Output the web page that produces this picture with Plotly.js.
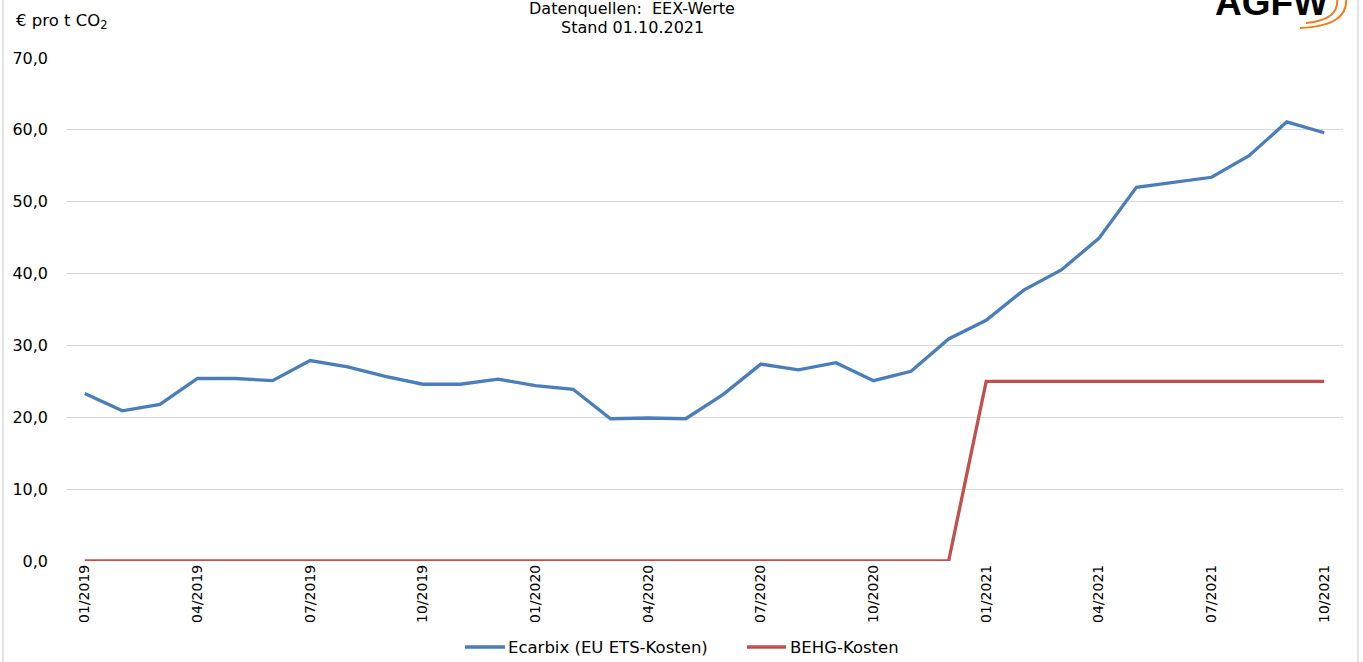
<!DOCTYPE html>
<html>
<head>
<meta charset="utf-8">
<script src="https://cdn.plot.ly/plotly-3.0.1.min.js"></script>
<style>html,body{margin:0;padding:0;background:#fff;}#chart{width:1363px;height:662px;}</style>
</head>
<body>
<div id="chart"></div>
<script>
const months = ["01/2019","02/2019","03/2019","04/2019","05/2019","06/2019","07/2019","08/2019","09/2019","10/2019","11/2019","12/2019",
"01/2020","02/2020","03/2020","04/2020","05/2020","06/2020","07/2020","08/2020","09/2020","10/2020","11/2020","12/2020",
"01/2021","02/2021","03/2021","04/2021","05/2021","06/2021","07/2021","08/2021","09/2021","10/2021"];
const ecarbix = [23.3,20.9,21.8,25.4,25.4,25.1,27.9,27.0,25.7,24.6,24.6,25.3,
24.4,23.9,19.8,19.9,19.8,23.2,27.4,26.6,27.6,25.1,26.4,30.9,
33.5,37.7,40.5,44.9,52.0,52.7,53.4,56.4,61.1,59.6];
const behg = [0,0,0,0,0,0,0,0,0,0,0,0,
0,0,0,0,0,0,0,0,0,0,0,0,
25,25,25,25,25,25,25,25,25,25];
const tickMonths = ["01/2019","04/2019","07/2019","10/2019","01/2020","04/2020","07/2020","10/2020","01/2021","04/2021","07/2021","10/2021"];
const seriesNames = ["Ecarbix (EU ETS-Kosten)", "BEHG-Kosten"];
const seriesColors = ["#4A7EBB", "#C0504D"];

const L=66, R=1343, T=58, B=561, W=1363, H=662;
const px = x => (x-L)/(R-L);
const py = y => (B-y)/(B-T);
const font = 'DejaVu Sans, Liberation Sans, Arial, sans-serif';

const traces = [
  {x: months, y: ecarbix, type:'scatter', mode:'lines', name:seriesNames[0],
   line:{color:seriesColors[0], width:3.3}},
  {x: months, y: behg, type:'scatter', mode:'lines', name:seriesNames[1],
   line:{color:seriesColors[1], width:3.3}}
];

const arc1 = `M ${px(1300)},${py(28)} Q ${px(1349)},${py(26)} ${px(1346)},${py(-2)}`;
const arc2 = `M ${px(1306)},${py(23)} Q ${px(1340)},${py(20)} ${px(1337)},${py(-2)}`;

const legY = 647;
const layout = {
  width: W, height: H,
  margin:{l:L, r:W-R, t:T, b:H-B},
  paper_bgcolor:'#fff', plot_bgcolor:'#fff',
  separators: ',.',
  font:{family:font, size:14, color:'#000'},
  showlegend:false,
  xaxis:{type:'category', range:[-0.5, months.length-0.5], tickmode:'array',
         tickvals: tickMonths, ticktext: tickMonths, tickangle:-90,
         showgrid:false, zeroline:false, showline:false, ticks:'', automargin:false,
         tickfont:{family:font, size:14, color:'#000'}, fixedrange:true},
  yaxis:{range:[0,70], dtick:10, tickformat:'.1f', showgrid:true, gridcolor:'#D9D9D9', gridwidth:1,
         zeroline:false, showline:false, ticks:'', ticklabelstandoff:17, automargin:false,
         tickfont:{family:font, size:16, color:'#000'}, fixedrange:true},
  annotations:[
    {xref:'paper', yref:'paper', x:px(14), y:py(21), xanchor:'left', yanchor:'middle', showarrow:false,
     text:'€ pro t CO<sub>2</sub>', font:{family:font, size:16.5, color:'#000'}},
    {xref:'paper', yref:'paper', x:px(632), y:py(8.5), xanchor:'center', yanchor:'middle', showarrow:false, borderpad:0,
     text:'Datenquellen:  EEX-Werte', font:{family:font, size:16, color:'#000'}},
    {xref:'paper', yref:'paper', x:px(632), y:py(27.5), xanchor:'center', yanchor:'middle', showarrow:false, borderpad:0,
     text:'Stand 01.10.2021', font:{family:font, size:16, color:'#000'}},
    {xref:'paper', yref:'paper', x:px(1213), y:py(17), xanchor:'left', yanchor:'bottom', showarrow:false,
     text:'<b>AGFW</b>', font:{family:'Liberation Sans, Arial, sans-serif', size:37, color:'#000'}, yshift:-8},
    {xref:'paper', yref:'paper', x:px(506), y:py(legY), xanchor:'left', yanchor:'middle', showarrow:false,
     text:seriesNames[0], font:{family:font, size:16.5, color:'#000'}},
    {xref:'paper', yref:'paper', x:px(788), y:py(legY), xanchor:'left', yanchor:'middle', showarrow:false,
     text:seriesNames[1], font:{family:font, size:16.5, color:'#000'}}
  ],
  shapes:[
    {type:'line', xref:'paper', yref:'paper', x0:px(3), x1:px(3), y0:py(0), y1:py(662), line:{color:'#D9D9D9', width:1.5}},
    {type:'line', xref:'paper', yref:'paper', x0:px(1358), x1:px(1358), y0:py(0), y1:py(662), line:{color:'#D9D9D9', width:1.5}},
    {type:'path', xref:'paper', yref:'paper', path:arc1, line:{color:'#F07D1E', width:2}},
    {type:'path', xref:'paper', yref:'paper', path:arc2, line:{color:'#F07D1E', width:2}},
    {type:'line', xref:'paper', yref:'paper', x0:px(465), x1:px(505), y0:py(legY), y1:py(legY), line:{color:seriesColors[0], width:3.3}},
    {type:'line', xref:'paper', yref:'paper', x0:px(747), x1:px(786), y0:py(legY), y1:py(legY), line:{color:seriesColors[1], width:3.3}}
  ]
};

Plotly.newPlot('chart', traces, layout, {displayModeBar:false, staticPlot:true});
</script>
</body>
</html>
